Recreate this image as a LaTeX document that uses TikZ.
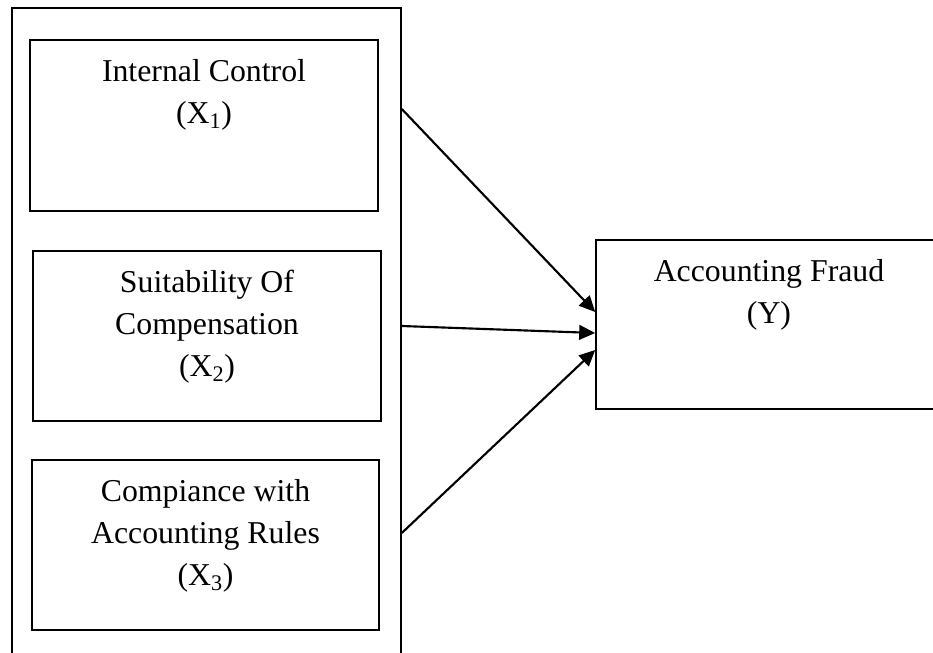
\documentclass[tikz,border=0pt]{standalone}
\usepackage{fontspec}
\setmainfont{Liberation Serif}
\usetikzlibrary{positioning, arrows.meta}

\begin{document}
\begin{tikzpicture}[x=0.75pt, y=-0.75pt,
    box/.style={draw, line width=1.2pt, inner sep=0pt, minimum width=#1},
    txt/.style={align=center, inner sep=0pt, font=\fontsize{23.85}{31.5}\selectfont},
    arr/.style={line width=1.6pt, -{Triangle[length=12pt, width=11pt]}}]
    \useasboundingbox (0,0) rectangle (933,653);

    % left block
    \node[box=389*0.75pt, minimum height=662*0.75pt] (outer) at (206.5,339) {};
    \node[box=348*0.75pt, minimum height=171*0.75pt] (x1) at (204,125.5) {};
    \node[box=348*0.75pt, minimum height=170*0.75pt] (x2) at (207,336) {};
    \node[box=347*0.75pt, minimum height=170*0.75pt] (x3) at (205.5,545) {};

    % right block
    \node[box=346*0.75pt, minimum height=169*0.75pt] (y) at (769,324.5) {};

    \node[txt, below=15pt of x1.north] (t1) {Internal Control\\(X\textsubscript{1})};
    \node[txt, below=15pt of x2.north] (t2) {Suitability Of\\Compensation\\(X\textsubscript{2})};
    \node[txt, below=15pt of x3.north] (t3) {Compiance with\\Accounting Rules\\(X\textsubscript{3})};
    \node[txt, below=15pt of y.north] (ty) {Accounting Fraud\\(Y)};

    \coordinate (s1) at (outer.east |- 0,109);
    \coordinate (s2) at (outer.east |- 0,326);
    \coordinate (s3) at (outer.east |- 0,533);
    \coordinate (e1) at (y.west |- 0,312);
    \coordinate (e2) at (y.west |- 0,333);
    \coordinate (e3) at (y.west |- 0,350);

    \draw[arr] (s1) -- (e1);
    \draw[arr] (s2) -- (e2);
    \draw[arr] (s3) -- (e3);
\end{tikzpicture}
\end{document}
